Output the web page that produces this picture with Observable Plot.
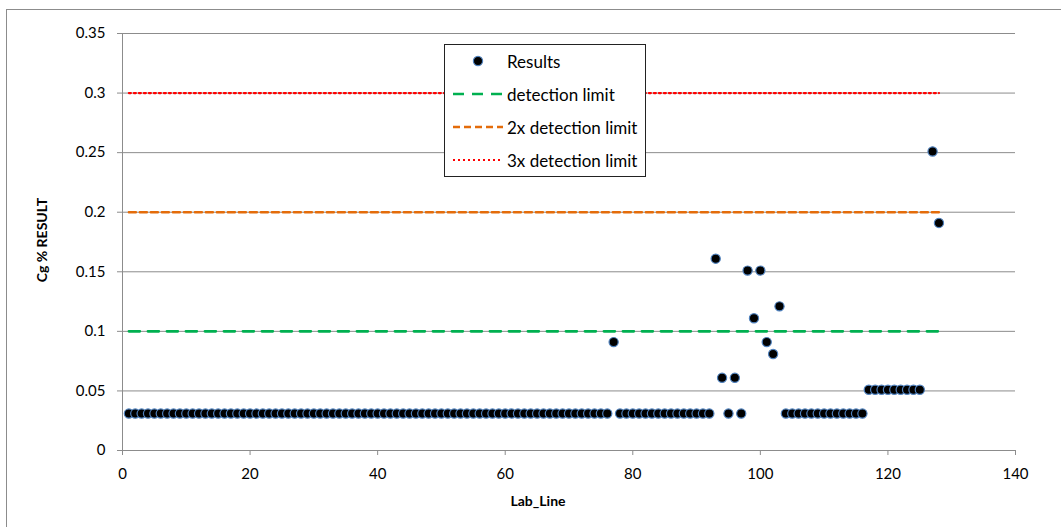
<!DOCTYPE html>
<html>
<head>
<meta charset="utf-8">
<script src="https://cdn.jsdelivr.net/npm/d3@7"></script>
<script src="https://cdn.jsdelivr.net/npm/@observablehq/plot@0.6"></script>
<style>
  body { margin: 0; background: #fff; font-family: Lato, "Open Sans", sans-serif; }
  #wrap { position: relative; width: 1061px; height: 527px; overflow: hidden; background: #fff; }
  #frame { position: absolute; left: 6px; top: 9px; width: 1100px; height: 600px; border: 1px solid #8c8c8c; box-sizing: border-box; }
  #chart { position: absolute; left: 0; top: 0; }
  #chart svg g[aria-label="y-axis tick label"] text, #chart svg g[aria-label="x-axis tick label"] text { font-size: 15px; }
  .title { position: absolute; font-weight: bold; font-size: 14px; color: #000; white-space: nowrap; }
  #ytitle { left: 41px; top: 240px; transform: translate(-50%, -50%) rotate(-90deg); }
  #xtitle { left: 538px; top: 500px; transform: translate(-50%, -50%); }
  #legend { position: absolute; left: 444px; top: 44px; width: 202px; height: 133px; box-sizing: border-box;
            border: 1px solid #222; background: #fff; }
  .row { position: absolute; left: 0; height: 20px; display: flex; align-items: center; }
  .row svg { margin-left: 8px; }
  .row span { font-size: 17px; color: #000; margin-left: 4px; }
</style>
</head>
<body>
<div id="wrap">
  <div id="frame"></div>
  <div id="chart"></div>
  <div id="ytitle" class="title">Cg % RESULT</div>
  <div id="xtitle" class="title">Lab_Line</div>
  <div id="legend"></div>
</div>
<script>
// Cg % result per lab line (index 0 = Lab_Line 1); null = no value
const results = [
  0.031,0.031,0.031,0.031,0.031,0.031,0.031,0.031,0.031,0.031,
  0.031,0.031,0.031,0.031,0.031,0.031,0.031,0.031,0.031,0.031,
  0.031,0.031,0.031,0.031,0.031,0.031,0.031,0.031,0.031,0.031,
  0.031,0.031,0.031,0.031,0.031,0.031,0.031,0.031,0.031,0.031,
  0.031,0.031,0.031,0.031,0.031,0.031,0.031,0.031,0.031,0.031,
  0.031,0.031,0.031,0.031,0.031,0.031,0.031,0.031,0.031,0.031,
  0.031,0.031,0.031,0.031,0.031,0.031,0.031,0.031,0.031,0.031,
  0.031,0.031,0.031,0.031,0.031,0.031,0.091,0.031,0.031,0.031,
  0.031,0.031,0.031,0.031,0.031,0.031,0.031,0.031,0.031,0.031,
  0.031,0.031,0.161,0.061,0.031,0.061,0.031,0.151,0.111,0.151,
  0.091,0.081,0.121,0.031,0.031,0.031,0.031,0.031,0.031,0.031,
  0.031,0.031,0.031,0.031,0.031,0.031,0.051,0.051,0.051,0.051,
  0.051,0.051,0.051,0.051,0.051,null,0.251,0.191
];
const limitRange = [1, 128];
const limitNames = ["detection limit", "2x detection limit", "3x detection limit"];
const limitValues = [0.1, 0.2, 0.3];
const limitColors = ["#00B050", "#E46C0A", "#FF0000"];
const limitDash = ["11,8", "7,4", "2,3"];
const limitWidth = [2.6, 2.4, 2.2];
const yTicks = [0, 0.05, 0.1, 0.15, 0.2, 0.25, 0.3, 0.35];
const xTicks = [0, 20, 40, 60, 80, 100, 120, 140];

const points = results.map((v, i) => ({x: i + 1, y: v})).filter(d => d.y != null);
const limitLines = limitNames.map((n, k) => limitRange.map(x => ({x, y: limitValues[k], k})));

const grid = "#8c8c8c";
const plot = Plot.plot({
  width: 1061, height: 527,
  marginLeft: 122, marginRight: 46, marginTop: 33, marginBottom: 77,
  style: { fontFamily: "Lato, 'Open Sans', sans-serif", fontSize: "15px", color: "#000", background: "transparent" },
  x: { domain: [0, 140], ticks: xTicks },
  y: { domain: [0, 0.35], ticks: yTicks },
  marks: [
    Plot.gridY(yTicks, { stroke: grid, strokeOpacity: 1, strokeWidth: 1 }),
    Plot.ruleX([0], { stroke: grid, strokeWidth: 1 }),
    Plot.axisY(yTicks, { tickSize: 5, tickPadding: 12, stroke: grid, label: null, fontSize: 15,
                         tickFormat: d => String(+d.toFixed(2)) }),
    Plot.axisX(xTicks, { tickSize: 5, tickPadding: 13, stroke: grid, label: null, fontSize: 15 }),
    Plot.dot(points, { x: "x", y: "y", r: 4.6, fill: "#000", stroke: "#4F81BD", strokeWidth: 1.2 }),
    ...limitLines.map((pts, k) => Plot.line(pts, { x: "x", y: "y", stroke: limitColors[k],
        strokeWidth: limitWidth[k], strokeDasharray: limitDash[k] }))
  ]
});
document.getElementById("chart").appendChild(plot);

// legend
const legend = document.getElementById("legend");
const rowsTop = [6, 39, 72, 105];
const items = [{name: "Results", type: "dot"}].concat(limitNames.map((n, k) => ({name: n, type: "line", k})));
items.forEach((it, i) => {
  const row = document.createElement("div");
  row.className = "row";
  row.style.top = rowsTop[i] + "px";
  let sw;
  if (it.type === "dot") {
    sw = `<svg width="50" height="20"><circle cx="25" cy="10" r="4.6" fill="#000" stroke="#4F81BD" stroke-width="1.2"/></svg>`;
  } else {
    sw = `<svg width="50" height="20"><line x1="0" x2="50" y1="10" y2="10" stroke="${limitColors[it.k]}" stroke-width="${limitWidth[it.k]}" stroke-dasharray="${limitDash[it.k]}"/></svg>`;
  }
  row.innerHTML = sw + `<span>${it.name}</span>`;
  legend.appendChild(row);
});
</script>
</body>
</html>
